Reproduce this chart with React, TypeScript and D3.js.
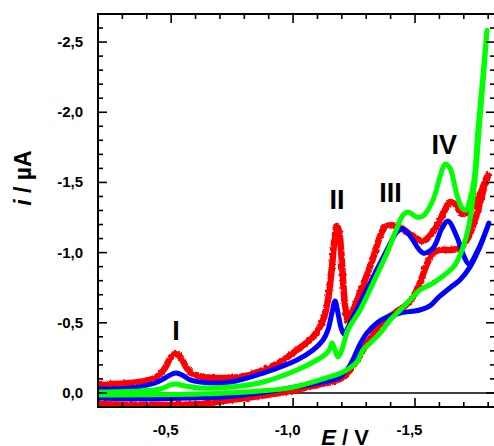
import React from "react";
import * as d3 from "d3";

// Cyclic voltammograms: potential E (V) vs current i (µA); each scan = forward sweep + return sweep
const redScan: [number, number][] = [
  [-0.2, -0.064], [-0.332, -0.071], [-0.434, -0.107], [-0.475, -0.178], [-0.496, -0.249],
  [-0.52, -0.278], [-0.541, -0.249], [-0.57, -0.164], [-0.611, -0.121], [-0.68, -0.107],
  [-0.783, -0.114], [-0.877, -0.164], [-0.947, -0.221], [-1.016, -0.306], [-1.082, -0.399],
  [-1.123, -0.52], [-1.143, -0.662], [-1.16, -0.912], [-1.172, -1.125], [-1.18, -1.189],
  [-1.189, -1.147], [-1.201, -0.912], [-1.213, -0.627], [-1.225, -0.52], [-1.246, -0.591],
  [-1.287, -0.769], [-1.328, -0.962], [-1.357, -1.118], [-1.377, -1.182], [-1.426, -1.189],
  [-1.48, -1.132], [-1.533, -1.083], [-1.574, -1.147], [-1.615, -1.275], [-1.643, -1.36],
  [-1.664, -1.346], [-1.693, -1.275], [-1.713, -1.289], [-1.754, -1.375], [-1.799, -1.553],
  // return
  [-1.775, -1.41], [-1.746, -1.232], [-1.717, -1.104], [-1.684, -1.033], [-1.643, -1.019],
  [-1.602, -1.019], [-1.574, -0.997], [-1.549, -0.919], [-1.52, -0.783], [-1.492, -0.684],
  [-1.459, -0.62], [-1.418, -0.57], [-1.369, -0.506], [-1.316, -0.392], [-1.275, -0.271],
  [-1.234, -0.164], [-1.193, -0.1], [-1.082, -0.05], [-0.988, -0.014], [-0.865, 0.021],
  [-0.742, 0.05], [-0.619, 0.078], [-0.414, 0.085], [-0.2, 0.078],
];

const blueScan: [number, number][] = [
  [-0.2, -0.028], [-0.332, -0.036], [-0.434, -0.071], [-0.475, -0.107], [-0.504, -0.135],
  [-0.52, -0.142], [-0.545, -0.128], [-0.578, -0.093], [-0.619, -0.078], [-0.742, -0.078],
  [-0.877, -0.142], [-1.016, -0.235], [-1.082, -0.306], [-1.123, -0.377], [-1.143, -0.449],
  [-1.16, -0.577], [-1.172, -0.655], [-1.184, -0.57], [-1.197, -0.463], [-1.209, -0.42],
  [-1.234, -0.499], [-1.275, -0.641], [-1.328, -0.826], [-1.385, -1.019], [-1.426, -1.147],
  [-1.451, -1.168], [-1.48, -1.118], [-1.533, -0.997], [-1.574, -1.033], [-1.611, -1.175],
  [-1.635, -1.225], [-1.672, -1.111], [-1.697, -0.99], [-1.721, -0.919], [-1.758, -1.019],
  [-1.803, -1.211],
  // return
  [-1.766, -1.04], [-1.725, -0.897], [-1.684, -0.805], [-1.643, -0.748], [-1.594, -0.677],
  [-1.561, -0.62], [-1.52, -0.591], [-1.439, -0.57], [-1.385, -0.541], [-1.344, -0.499],
  [-1.303, -0.427], [-1.275, -0.349], [-1.234, -0.199], [-1.193, -0.114], [-1.123, -0.078],
  [-0.988, -0.036], [-0.865, 0.0], [-0.713, 0.028], [-0.578, 0.036], [-0.414, 0.043],
  [-0.2, 0.036],
];

const greenScan: [number, number][] = [
  [-0.2, -0.007], [-0.373, -0.014], [-0.455, -0.028], [-0.496, -0.057], [-0.52, -0.064],
  [-0.557, -0.05], [-0.619, -0.036], [-0.783, -0.05], [-0.877, -0.078], [-1.016, -0.164],
  [-1.098, -0.235], [-1.139, -0.285], [-1.152, -0.321], [-1.16, -0.356], [-1.172, -0.306],
  [-1.184, -0.256], [-1.197, -0.292], [-1.225, -0.449], [-1.275, -0.591], [-1.328, -0.783],
  [-1.385, -0.997], [-1.426, -1.175], [-1.451, -1.268], [-1.471, -1.289], [-1.508, -1.254],
  [-1.533, -1.261], [-1.574, -1.375], [-1.602, -1.538], [-1.623, -1.631], [-1.643, -1.603],
  [-1.672, -1.41], [-1.693, -1.318], [-1.709, -1.303], [-1.725, -1.375], [-1.742, -1.517],
  [-1.758, -1.873], [-1.775, -2.194], [-1.795, -2.585],
  // return
  [-1.783, -2.301], [-1.766, -1.944], [-1.75, -1.588], [-1.734, -1.339], [-1.717, -1.161],
  [-1.693, -1.019], [-1.664, -0.912], [-1.631, -0.855], [-1.574, -0.783], [-1.52, -0.734],
  [-1.48, -0.662], [-1.439, -0.591], [-1.398, -0.52], [-1.357, -0.427], [-1.316, -0.356],
  [-1.287, -0.306], [-1.262, -0.221], [-1.213, -0.157], [-1.123, -0.1], [-0.988, -0.036],
  [-0.865, -0.014], [-0.619, 0.007], [-0.2, 0.014],
];

const xTickValues = [-0.5, -1.0, -1.5];
const xTickLabels = ["-0,5", "-1,0", "-1,5"];
const yTickValues = [0, -0.5, -1.0, -1.5, -2.0, -2.5];
const yTickLabels = ["0,0", "-0,5", "-1,0", "-1,5", "-2,0", "-2,5"];

const peakLabels = ["I", "II", "III", "IV"];
const peakPositions: [number, number][] = [
  [-0.52, -0.38], [-1.18, -1.31], [-1.40, -1.36], [-1.62, -1.70],
];

const W = 494;
const H = 446;
const left = 98, top = 14, right = 495, bottom = 407;

export default function App() {
  const x = d3.scaleLinear().domain([-0.2, -1.828]).range([left, right]);
  const y = d3.scaleLinear().domain([0.1, -2.7]).range([bottom, top]);

  const line = d3
    .line<[number, number]>()
    .x((d) => x(d[0]))
    .y((d) => y(d[1]))
    .curve(d3.curveCatmullRom.alpha(0.5));

  const xMinor = d3.range(-0.3, -1.85, -0.1).map((v) => +v.toFixed(2));
  const yMinor = d3.range(0, -2.75, -0.1).map((v) => +v.toFixed(2));
  const isMajor = (v: number) => Math.abs(v * 2 - Math.round(v * 2)) < 1e-6;

  const font = "Arial, 'Liberation Sans', sans-serif";

  return (
    <svg
      width={W}
      height={H}
      style={{ position: "absolute", left: 0, top: 0, background: "#fff" }}
      fontFamily={font}
    >
      <defs>
        <clipPath id="plot">
          <rect x={left} y={top} width={right - left} height={bottom - top} />
        </clipPath>
        {/* ragged edge for the noisy trace */}
        <filter id="rough" x="-5%" y="-5%" width="110%" height="110%">
          <feTurbulence type="fractalNoise" baseFrequency="0.3" numOctaves="2" seed="3" result="n" />
          <feDisplacementMap in="SourceGraphic" in2="n" scale="3" xChannelSelector="R" yChannelSelector="G" />
        </filter>
        <filter id="roughLight" x="-5%" y="-5%" width="110%" height="110%">
          <feTurbulence type="fractalNoise" baseFrequency="0.5" numOctaves="1" seed="7" result="n" />
          <feDisplacementMap in="SourceGraphic" in2="n" scale="1.5" xChannelSelector="R" yChannelSelector="G" />
        </filter>
      </defs>

      {/* zero current line */}
      <line x1={left} x2={right} y1={y(0)} y2={y(0)} stroke="#000" strokeWidth={1.6} />

      <g clipPath="url(#plot)" fill="none" strokeLinejoin="round" strokeLinecap="round">
        <path d={line(redScan) ?? ""} stroke="#ff0000" strokeWidth={6.5} filter="url(#rough)" />
        <path d={line(blueScan) ?? ""} stroke="#0000ff" strokeWidth={5} filter="url(#roughLight)" />
        <path d={line(greenScan) ?? ""} stroke="#00ff00" strokeWidth={5} filter="url(#roughLight)" />
      </g>

      {/* frame */}
      <rect x={left} y={top} width={right - left} height={bottom - top} fill="none" stroke="#000" strokeWidth={2} />

      {/* x ticks, bottom and top, pointing inward */}
      {xMinor.map((v) => {
        const len = isMajor(v) ? 9 : 5;
        return (
          <g key={"x" + v} stroke="#000" strokeWidth={1.6}>
            <line x1={x(v)} x2={x(v)} y1={bottom} y2={bottom - len} />
            <line x1={x(v)} x2={x(v)} y1={top} y2={top + len} />
          </g>
        );
      })}
      {yMinor.map((v) => {
        const len = isMajor(v) ? 9 : 5;
        return (
          <g key={"y" + v} stroke="#000" strokeWidth={1.6}>
            <line x1={left} x2={left + len} y1={y(v)} y2={y(v)} />
            <line x1={right} x2={right - len} y1={y(v)} y2={y(v)} />
          </g>
        );
      })}

      {/* tick labels */}
      {xTickValues.map((v, k) => (
        <text key={"xl" + v} x={x(v) - 5.5} y={435} textAnchor="middle" fontSize={15} fontWeight="bold">
          {xTickLabels[k]}
        </text>
      ))}
      {yTickValues.map((v, k) => (
        <text key={"yl" + v} x={83} y={y(v) + 5} textAnchor="end" fontSize={15} fontWeight="bold">
          {yTickLabels[k]}
        </text>
      ))}

      {/* axis titles */}
      <text
        transform={`translate(31, 178) rotate(-90)`}
        textAnchor="middle"
        fontSize={23}
        fontWeight="bold"
      >
        <tspan fontStyle="italic">i</tspan> / µA
      </text>
      <text x={345} y={445} textAnchor="middle" fontSize={22} fontWeight="bold">
        <tspan fontStyle="italic">E</tspan> / V
      </text>

      {/* peak labels */}
      {peakLabels.map((t, k) => (
        <text
          key={t}
          x={x(peakPositions[k][0])}
          y={y(peakPositions[k][1])}
          textAnchor="middle"
          fontSize={27}
          fontWeight="bold"
        >
          {t}
        </text>
      ))}
    </svg>
  );
}
